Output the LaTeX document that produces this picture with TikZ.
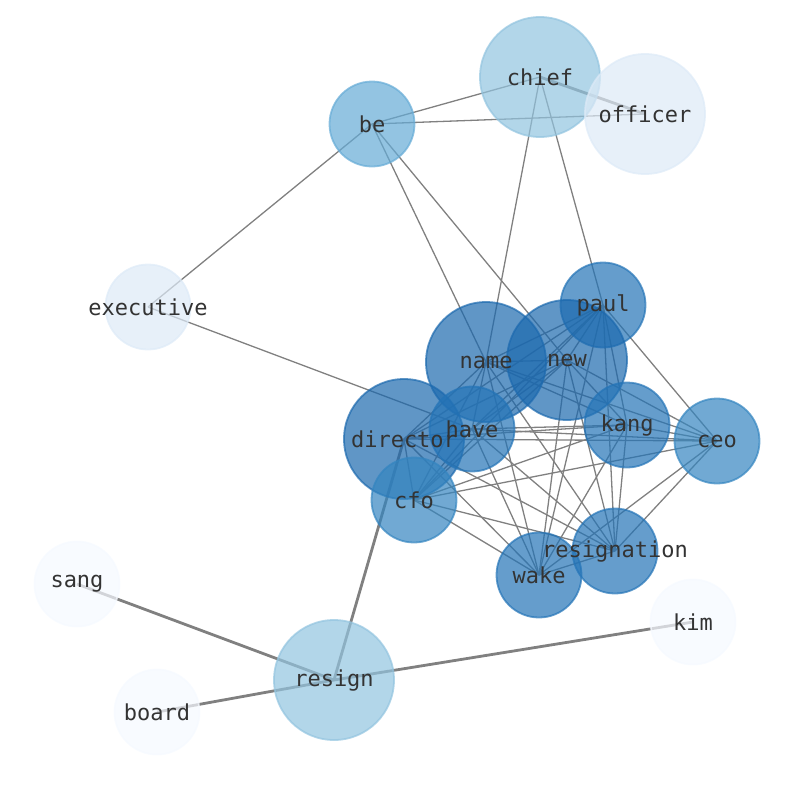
\documentclass[tikz,border=0pt]{standalone}
\usepackage{fontspec}
\newfontfamily\labelfont{DejaVu Sans Mono}
\definecolor{cdark}{HTML}{1C69AE}
\definecolor{cdarkb}{HTML}{2474B7}
\definecolor{cmid}{HTML}{3485C0}
\definecolor{clight}{HTML}{92C4DF}
\definecolor{cbe}{HTML}{65ABD6}
\definecolor{cpale}{HTML}{DDEAF7}
\definecolor{cwhite}{HTML}{F5F9FF}
\definecolor{ctext}{HTML}{333333}
\tikzset{
  nd/.style={circle, draw=#1, fill=#1, opacity=0.7, line width=1.8pt, inner sep=0pt},
  bignode/.style={minimum size=120pt},
  smallnode/.style={minimum size=85pt},
  lbl/.style={font=\labelfont\fontsize{22}{22}\selectfont, text=ctext, inner sep=0pt},
  thinedge/.style={draw=gray, line width=1.3pt},
  thickedge/.style={draw=gray, line width=2.8pt},
}
\begin{document}
\begin{tikzpicture}[x=1pt,y=-1pt]
\useasboundingbox (0,0) rectangle (794,790);
% positions
\coordinate (chief) at (540,77);
\coordinate (officer) at (645,114);
\coordinate (be) at (372,124);
\coordinate (executive) at (148,307);
\coordinate (paul) at (603,305);
\coordinate (name) at (486,362);
\coordinate (new) at (567,360);
\coordinate (director) at (404,439);
\coordinate (have) at (472,429);
\coordinate (kang) at (627,425);
\coordinate (ceo) at (717,441);
\coordinate (cfo) at (414,500);
\coordinate (resignation) at (615,551);
\coordinate (wake) at (539,575);
\coordinate (sang) at (77,584);
\coordinate (kim) at (693,622);
\coordinate (resign) at (334,680);
\coordinate (board) at (157,712);
% edges
\draw[thinedge] (be) -- (chief);
\draw[thinedge] (be) -- (officer);
\draw[thinedge] (be) -- (executive);
\draw[thinedge] (be) -- (name);
\draw[thinedge] (be) -- (new);
\draw[thinedge] (chief) -- (name);
\draw[thinedge] (chief) -- (paul);
\draw[thinedge] (executive) -- (have);
\draw[thickedge] (chief) -- (officer);
\draw[thickedge] (resign) -- (sang);
\draw[thickedge] (resign) -- (board);
\draw[thickedge] (resign) -- (kim);
\draw[thickedge] (resign) -- (director);
\foreach \a/\rest in {name/{new,paul,director,have,kang,ceo,cfo,resignation,wake},
                      new/{paul,director,have,kang,ceo,cfo,resignation,wake},
                      paul/{director,have,kang,ceo,cfo,resignation,wake},
                      director/{have,kang,ceo,cfo,resignation,wake},
                      have/{kang,ceo,cfo,resignation,wake},
                      kang/{ceo,cfo,resignation,wake},
                      ceo/{cfo,resignation,wake},
                      cfo/{resignation,wake},
                      resignation/{wake}}{
  \foreach \b in \rest { \draw[thinedge] (\a) -- (\b); }
}
% nodes
\node[nd=clight, bignode] (n-chief) at (chief) {};
\node[nd=cpale, bignode] (n-officer) at (officer) {};
\node[nd=cbe, smallnode] (n-be) at (be) {};
\node[nd=cpale, smallnode] (n-executive) at (executive) {};
\node[nd=cdarkb, smallnode] (n-paul) at (paul) {};
\node[nd=cdark, bignode] (n-name) at (name) {};
\node[nd=cdark, bignode] (n-new) at (new) {};
\node[nd=cdark, bignode] (n-director) at (director) {};
\node[nd=cdarkb, smallnode] (n-have) at (have) {};
\node[nd=cdarkb, smallnode] (n-kang) at (kang) {};
\node[nd=cmid, smallnode] (n-ceo) at (ceo) {};
\node[nd=cmid, smallnode] (n-cfo) at (cfo) {};
\node[nd=cdarkb, smallnode] (n-resignation) at (resignation) {};
\node[nd=cdarkb, smallnode] (n-wake) at (wake) {};
\node[nd=cwhite, smallnode] (n-sang) at (sang) {};
\node[nd=cwhite, smallnode] (n-kim) at (kim) {};
\node[nd=clight, bignode] (n-resign) at (resign) {};
\node[nd=cwhite, smallnode] (n-board) at (board) {};
% labels
\foreach \n in {chief,officer,be,executive,paul,name,new,director,have,kang,ceo,cfo,resignation,wake,sang,kim,resign,board}{
  \node[lbl] (l-\n) at (\n) {\n};
}
\end{tikzpicture}
\end{document}
